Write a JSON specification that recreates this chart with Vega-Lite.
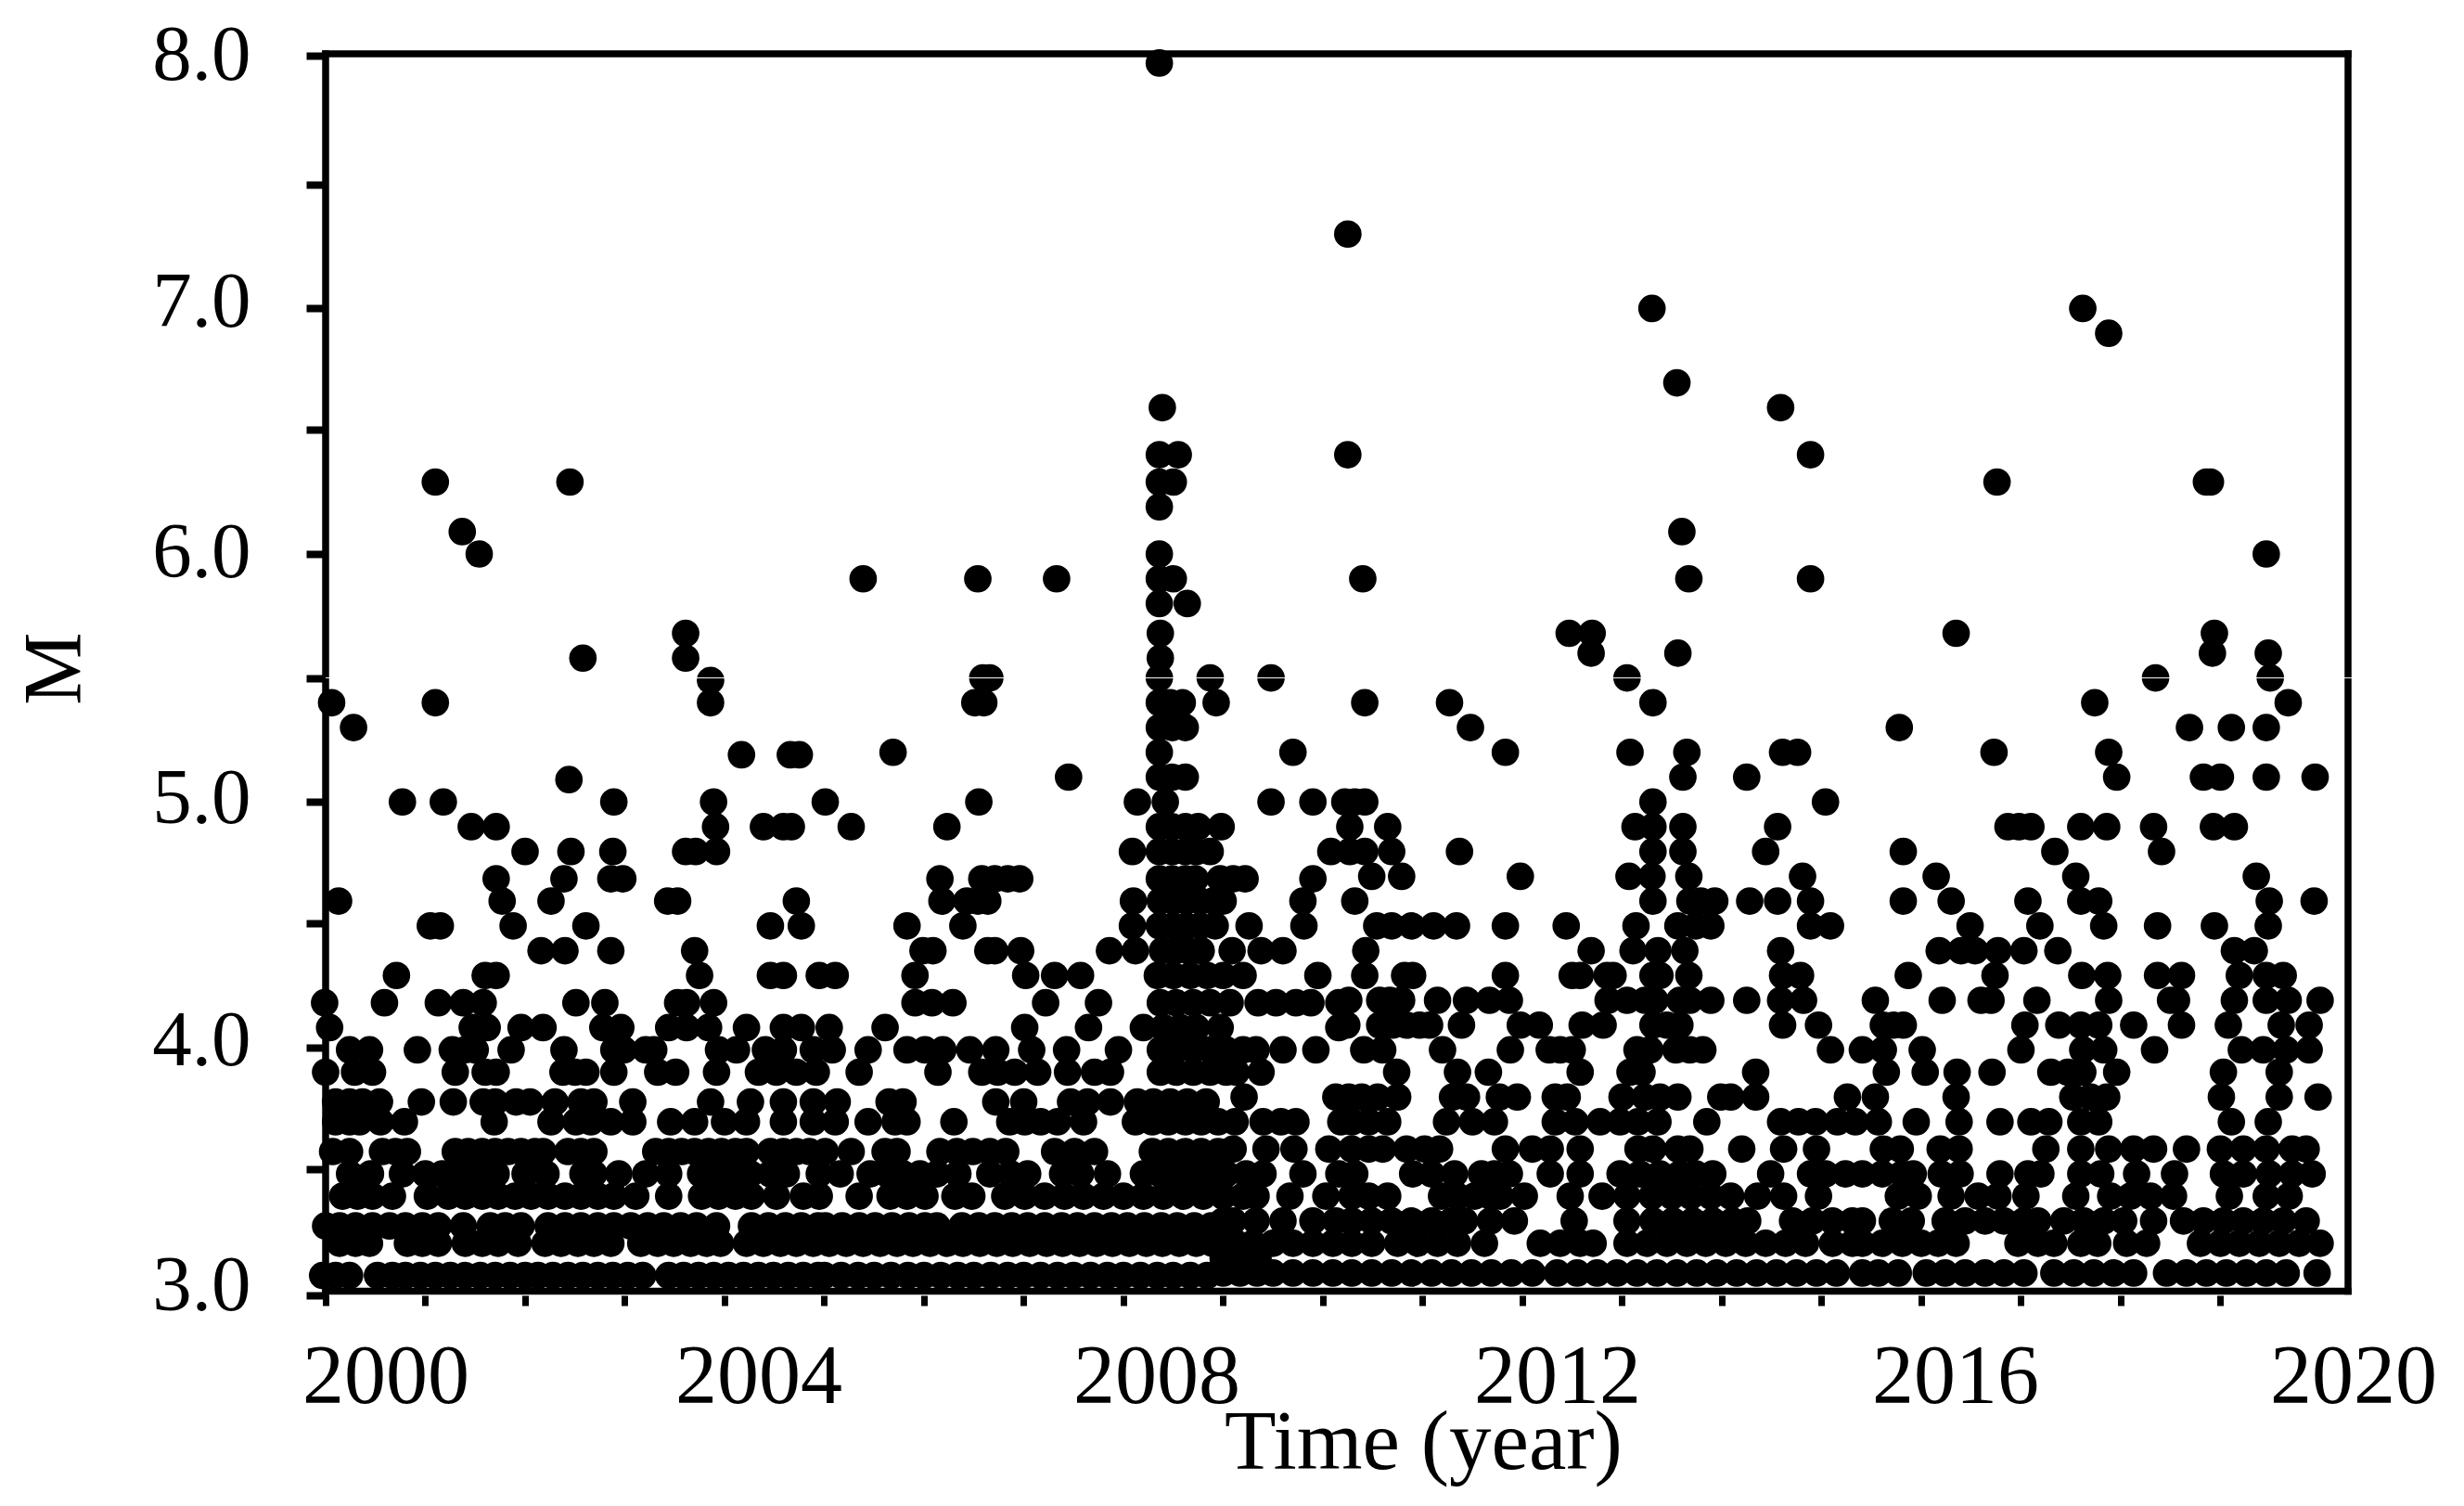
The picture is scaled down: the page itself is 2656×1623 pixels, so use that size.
{"$schema":"https://vega.github.io/schema/vega-lite/v6.json","description":"Earthquake magnitude against time, 2000 to 2020","width":2186.45,"height":1338,"autosize":{"type":"none"},"padding":{"left":351,"top":58,"right":118.55,"bottom":227},"background":"#ffffff","config":{"view":{"stroke":null},"font":"Liberation Serif"},"layer":[{"data":{"values":[
{"year":2008.36,"mag":7.97},{"year":2010.25,"mag":7.28},{"year":2013.3,"mag":6.98},{"year":2017.62,"mag":6.98},{"year":2017.88,"mag":6.88},{"year":2013.55,"mag":6.68},{"year":2008.39,"mag":6.58},{"year":2014.59,"mag":6.58},{"year":2008.36,"mag":6.39},{"year":2008.55,"mag":6.39},{"year":2010.25,"mag":6.39},{"year":2014.89,"mag":6.39},{"year":2008.36,"mag":6.28},{"year":2008.5,"mag":6.28},{"year":2001.1,"mag":6.28},{"year":2002.45,"mag":6.28},{"year":2016.76,"mag":6.28},{"year":2018.86,"mag":6.28},{"year":2018.9,"mag":6.28},{"year":2008.36,"mag":6.18},{"year":2001.37,"mag":6.08},{"year":2013.6,"mag":6.08},{"year":2001.54,"mag":5.99},{"year":2008.36,"mag":5.99},{"year":2019.46,"mag":5.99},{"year":2005.39,"mag":5.89},{"year":2006.54,"mag":5.89},{"year":2007.33,"mag":5.89},{"year":2008.36,"mag":5.89},{"year":2008.5,"mag":5.89},{"year":2010.4,"mag":5.89},{"year":2013.67,"mag":5.89},{"year":2014.89,"mag":5.89},{"year":2008.36,"mag":5.79},{"year":2008.64,"mag":5.79},
{"year":2003.61,"mag":5.67},{"year":2008.37,"mag":5.67},{"year":2012.47,"mag":5.67},{"year":2012.7,"mag":5.67},{"year":2016.35,"mag":5.67},{"year":2018.94,"mag":5.67},
{"year":2002.58,"mag":5.57},{"year":2003.61,"mag":5.57},{"year":2008.37,"mag":5.57},{"year":2012.69,"mag":5.59},{"year":2013.56,"mag":5.59},{"year":2018.92,"mag":5.59},{"year":2019.48,"mag":5.59},
{"year":2003.86,"mag":5.48},{"year":2006.59,"mag":5.49},{"year":2006.66,"mag":5.49},{"year":2008.36,"mag":5.49},{"year":2008.87,"mag":5.49},{"year":2009.48,"mag":5.49},{"year":2013.05,"mag":5.49},{"year":2018.35,"mag":5.49},{"year":2019.5,"mag":5.49},
{"year":2000.06,"mag":5.39},{"year":2001.1,"mag":5.39},{"year":2003.86,"mag":5.39},{"year":2006.51,"mag":5.39},{"year":2006.6,"mag":5.39},{"year":2008.36,"mag":5.39},{"year":2008.47,"mag":5.39},{"year":2008.59,"mag":5.39},{"year":2008.93,"mag":5.39},{"year":2010.42,"mag":5.39},{"year":2011.27,"mag":5.39},{"year":2013.31,"mag":5.39},{"year":2017.74,"mag":5.39},{"year":2019.68,"mag":5.39},
{"year":2000.28,"mag":5.29},{"year":2008.36,"mag":5.29},{"year":2008.49,"mag":5.29},{"year":2008.62,"mag":5.29},{"year":2011.48,"mag":5.29},{"year":2015.78,"mag":5.29},{"year":2018.69,"mag":5.29},{"year":2019.11,"mag":5.29},{"year":2019.46,"mag":5.29},
{"year":2004.17,"mag":5.18},{"year":2004.66,"mag":5.18},{"year":2004.75,"mag":5.18},{"year":2005.69,"mag":5.19},{"year":2008.36,"mag":5.19},{"year":2009.7,"mag":5.19},{"year":2011.83,"mag":5.19},{"year":2013.08,"mag":5.19},{"year":2013.65,"mag":5.19},{"year":2014.61,"mag":5.19},{"year":2014.76,"mag":5.19},{"year":2016.73,"mag":5.19},{"year":2017.88,"mag":5.19},
{"year":2002.44,"mag":5.08},{"year":2007.45,"mag":5.09},{"year":2008.36,"mag":5.09},{"year":2008.49,"mag":5.09},{"year":2008.62,"mag":5.09},{"year":2013.61,"mag":5.09},{"year":2014.25,"mag":5.09},{"year":2017.96,"mag":5.09},{"year":2018.83,"mag":5.09},{"year":2019.0,"mag":5.09},{"year":2019.46,"mag":5.09},{"year":2019.95,"mag":5.09},
{"year":2000.77,"mag":4.99},{"year":2001.18,"mag":4.99},{"year":2002.89,"mag":4.99},{"year":2003.89,"mag":4.99},{"year":2005.01,"mag":4.99},{"year":2006.55,"mag":4.99},{"year":2008.14,"mag":4.99},{"year":2008.42,"mag":4.99},{"year":2009.48,"mag":4.99},{"year":2009.9,"mag":4.99},{"year":2010.22,"mag":4.99},{"year":2010.32,"mag":4.99},{"year":2010.42,"mag":4.99},{"year":2013.31,"mag":4.99},{"year":2015.04,"mag":4.99},
{"year":2001.46,"mag":4.89},{"year":2001.71,"mag":4.89},{"year":2003.91,"mag":4.89},{"year":2004.39,"mag":4.89},{"year":2004.59,"mag":4.89},{"year":2004.67,"mag":4.89},{"year":2005.27,"mag":4.89},{"year":2006.23,"mag":4.89},{"year":2008.36,"mag":4.89},{"year":2008.49,"mag":4.89},{"year":2008.62,"mag":4.89},{"year":2008.75,"mag":4.89},{"year":2008.98,"mag":4.89},{"year":2010.27,"mag":4.89},{"year":2010.65,"mag":4.89},{"year":2013.13,"mag":4.89},{"year":2013.31,"mag":4.89},{"year":2013.61,"mag":4.89},{"year":2014.56,"mag":4.89},{"year":2016.87,"mag":4.89},{"year":2016.98,"mag":4.89},{"year":2017.1,"mag":4.89},{"year":2017.6,"mag":4.89},{"year":2017.86,"mag":4.89},{"year":2018.33,"mag":4.89},{"year":2018.93,"mag":4.89},{"year":2019.14,"mag":4.89},
{"year":2002.0,"mag":4.79},{"year":2002.46,"mag":4.79},{"year":2002.88,"mag":4.79},{"year":2003.61,"mag":4.79},{"year":2003.71,"mag":4.79},{"year":2003.92,"mag":4.79},{"year":2008.09,"mag":4.79},{"year":2008.36,"mag":4.79},{"year":2008.49,"mag":4.79},{"year":2008.62,"mag":4.79},{"year":2008.73,"mag":4.79},{"year":2008.87,"mag":4.79},{"year":2010.08,"mag":4.79},{"year":2010.27,"mag":4.79},{"year":2010.42,"mag":4.79},{"year":2010.69,"mag":4.79},{"year":2011.37,"mag":4.79},{"year":2013.31,"mag":4.79},{"year":2013.61,"mag":4.79},{"year":2014.44,"mag":4.79},{"year":2015.82,"mag":4.79},{"year":2017.34,"mag":4.79},{"year":2018.41,"mag":4.79},
{"year":2001.71,"mag":4.68},{"year":2002.39,"mag":4.68},{"year":2002.86,"mag":4.68},{"year":2002.98,"mag":4.68},{"year":2006.16,"mag":4.68},{"year":2006.58,"mag":4.68},{"year":2006.71,"mag":4.68},{"year":2006.84,"mag":4.68},{"year":2006.96,"mag":4.68},{"year":2008.36,"mag":4.68},{"year":2008.49,"mag":4.68},{"year":2008.62,"mag":4.68},{"year":2008.72,"mag":4.68},{"year":2008.97,"mag":4.68},{"year":2009.1,"mag":4.68},{"year":2009.22,"mag":4.68},{"year":2009.9,"mag":4.68},{"year":2010.49,"mag":4.69},{"year":2010.79,"mag":4.69},{"year":2011.98,"mag":4.69},{"year":2013.07,"mag":4.69},{"year":2013.3,"mag":4.69},{"year":2013.67,"mag":4.69},{"year":2014.81,"mag":4.69},{"year":2016.15,"mag":4.69},{"year":2017.55,"mag":4.69},{"year":2019.36,"mag":4.69},
{"year":2000.13,"mag":4.59},{"year":2001.77,"mag":4.59},{"year":2002.26,"mag":4.59},{"year":2003.43,"mag":4.59},{"year":2003.53,"mag":4.59},{"year":2004.72,"mag":4.59},{"year":2006.18,"mag":4.59},{"year":2006.43,"mag":4.59},{"year":2006.54,"mag":4.59},{"year":2006.64,"mag":4.59},{"year":2008.1,"mag":4.59},{"year":2008.37,"mag":4.59},{"year":2008.5,"mag":4.59},{"year":2008.63,"mag":4.59},{"year":2008.77,"mag":4.59},{"year":2008.9,"mag":4.59},{"year":2009.0,"mag":4.59},{"year":2009.8,"mag":4.59},{"year":2010.32,"mag":4.59},{"year":2013.31,"mag":4.59},{"year":2013.68,"mag":4.59},{"year":2013.79,"mag":4.59},{"year":2013.93,"mag":4.59},{"year":2014.28,"mag":4.59},{"year":2014.56,"mag":4.59},{"year":2014.89,"mag":4.59},{"year":2015.82,"mag":4.59},{"year":2016.3,"mag":4.59},{"year":2017.07,"mag":4.59},{"year":2017.6,"mag":4.59},{"year":2017.78,"mag":4.59},{"year":2019.49,"mag":4.59},{"year":2019.94,"mag":4.59},
{"year":2001.05,"mag":4.49},{"year":2001.15,"mag":4.49},{"year":2001.88,"mag":4.49},{"year":2002.61,"mag":4.49},{"year":2004.46,"mag":4.49},{"year":2004.77,"mag":4.49},{"year":2005.83,"mag":4.49},{"year":2006.39,"mag":4.49},{"year":2008.09,"mag":4.49},{"year":2008.36,"mag":4.49},{"year":2008.5,"mag":4.49},{"year":2008.63,"mag":4.49},{"year":2008.77,"mag":4.49},{"year":2008.92,"mag":4.49},{"year":2009.26,"mag":4.49},{"year":2009.81,"mag":4.49},{"year":2010.54,"mag":4.49},{"year":2010.69,"mag":4.49},{"year":2010.89,"mag":4.49},{"year":2011.11,"mag":4.49},{"year":2011.34,"mag":4.49},{"year":2011.83,"mag":4.49},{"year":2012.44,"mag":4.49},{"year":2013.14,"mag":4.49},{"year":2013.56,"mag":4.49},{"year":2013.74,"mag":4.49},{"year":2013.89,"mag":4.49},{"year":2014.89,"mag":4.49},{"year":2015.09,"mag":4.49},{"year":2016.49,"mag":4.49},{"year":2017.19,"mag":4.49},{"year":2017.83,"mag":4.49},{"year":2018.37,"mag":4.49},{"year":2018.94,"mag":4.49},{"year":2019.48,"mag":4.49},
{"year":2002.16,"mag":4.39},{"year":2002.4,"mag":4.39},{"year":2002.86,"mag":4.39},{"year":2003.7,"mag":4.39},{"year":2005.99,"mag":4.39},{"year":2006.09,"mag":4.39},{"year":2006.64,"mag":4.39},{"year":2006.71,"mag":4.39},{"year":2006.97,"mag":4.39},{"year":2007.86,"mag":4.39},{"year":2008.12,"mag":4.39},{"year":2008.39,"mag":4.39},{"year":2008.52,"mag":4.39},{"year":2008.65,"mag":4.39},{"year":2008.78,"mag":4.39},{"year":2009.09,"mag":4.39},{"year":2009.38,"mag":4.39},{"year":2009.6,"mag":4.39},{"year":2010.43,"mag":4.39},{"year":2012.69,"mag":4.39},{"year":2013.11,"mag":4.39},{"year":2013.36,"mag":4.39},{"year":2013.63,"mag":4.39},{"year":2014.59,"mag":4.39},{"year":2016.18,"mag":4.39},{"year":2016.4,"mag":4.39},{"year":2016.54,"mag":4.39},{"year":2016.77,"mag":4.39},{"year":2017.03,"mag":4.39},{"year":2017.37,"mag":4.39},{"year":2019.14,"mag":4.39},{"year":2019.34,"mag":4.39},
{"year":2000.71,"mag":4.29},{"year":2001.6,"mag":4.29},{"year":2001.71,"mag":4.29},{"year":2003.75,"mag":4.29},{"year":2004.46,"mag":4.29},{"year":2004.59,"mag":4.29},{"year":2004.95,"mag":4.29},{"year":2005.11,"mag":4.29},{"year":2005.91,"mag":4.29},{"year":2007.02,"mag":4.29},{"year":2007.31,"mag":4.29},{"year":2007.57,"mag":4.29},{"year":2008.34,"mag":4.29},{"year":2008.5,"mag":4.29},{"year":2008.67,"mag":4.29},{"year":2008.84,"mag":4.29},{"year":2009.0,"mag":4.29},{"year":2009.2,"mag":4.29},{"year":2009.95,"mag":4.29},{"year":2010.42,"mag":4.29},{"year":2010.82,"mag":4.29},{"year":2010.9,"mag":4.29},{"year":2011.83,"mag":4.29},{"year":2012.5,"mag":4.29},{"year":2012.58,"mag":4.29},{"year":2012.85,"mag":4.29},{"year":2012.91,"mag":4.29},{"year":2013.31,"mag":4.29},{"year":2013.38,"mag":4.29},{"year":2013.67,"mag":4.29},{"year":2014.61,"mag":4.29},{"year":2014.79,"mag":4.29},{"year":2015.87,"mag":4.29},{"year":2016.74,"mag":4.29},{"year":2017.61,"mag":4.29},{"year":2017.87,"mag":4.29},{"year":2018.37,"mag":4.29},{"year":2018.61,"mag":4.29},{"year":2019.19,"mag":4.29},{"year":2019.46,"mag":4.29},{"year":2019.63,"mag":4.29},
{"year":1999.99,"mag":4.18},{"year":2000.59,"mag":4.18},{"year":2001.13,"mag":4.18},{"year":2001.38,"mag":4.18},{"year":2001.58,"mag":4.18},{"year":2002.51,"mag":4.18},{"year":2002.8,"mag":4.18},{"year":2003.53,"mag":4.18},{"year":2003.62,"mag":4.18},{"year":2003.89,"mag":4.18},{"year":2005.91,"mag":4.18},{"year":2006.08,"mag":4.18},{"year":2006.29,"mag":4.18},{"year":2007.22,"mag":4.18},{"year":2007.75,"mag":4.18},{"year":2008.37,"mag":4.18},{"year":2008.53,"mag":4.18},{"year":2008.7,"mag":4.18},{"year":2008.87,"mag":4.18},{"year":2009.07,"mag":4.18},{"year":2009.35,"mag":4.18},{"year":2009.53,"mag":4.18},{"year":2009.73,"mag":4.18},{"year":2009.88,"mag":4.18},{"year":2010.16,"mag":4.18},{"year":2010.26,"mag":4.19},{"year":2010.57,"mag":4.19},{"year":2010.67,"mag":4.19},{"year":2010.79,"mag":4.19},{"year":2011.15,"mag":4.19},{"year":2011.44,"mag":4.19},{"year":2011.67,"mag":4.19},{"year":2011.87,"mag":4.19},{"year":2012.86,"mag":4.19},{"year":2013.05,"mag":4.19},{"year":2013.23,"mag":4.19},{"year":2013.33,"mag":4.19},{"year":2013.58,"mag":4.19},{"year":2013.68,"mag":4.19},{"year":2013.89,"mag":4.19},{"year":2014.25,"mag":4.19},{"year":2014.59,"mag":4.19},{"year":2014.82,"mag":4.19},{"year":2015.54,"mag":4.19},{"year":2016.21,"mag":4.19},{"year":2016.6,"mag":4.19},{"year":2016.7,"mag":4.19},{"year":2017.16,"mag":4.19},{"year":2017.88,"mag":4.19},{"year":2018.5,"mag":4.19},{"year":2018.56,"mag":4.19},{"year":2019.14,"mag":4.19},{"year":2019.46,"mag":4.19},{"year":2019.68,"mag":4.19},{"year":2020.0,"mag":4.19},
{"year":2000.04,"mag":4.08},{"year":2001.47,"mag":4.08},{"year":2001.62,"mag":4.08},{"year":2001.96,"mag":4.08},{"year":2002.18,"mag":4.08},{"year":2002.78,"mag":4.08},{"year":2002.96,"mag":4.08},{"year":2003.44,"mag":4.08},{"year":2003.62,"mag":4.08},{"year":2003.84,"mag":4.08},{"year":2004.22,"mag":4.08},{"year":2004.59,"mag":4.08},{"year":2004.77,"mag":4.08},{"year":2005.05,"mag":4.08},{"year":2005.61,"mag":4.08},{"year":2007.01,"mag":4.08},{"year":2007.65,"mag":4.08},{"year":2008.2,"mag":4.08},{"year":2008.4,"mag":4.08},{"year":2008.57,"mag":4.08},{"year":2008.73,"mag":4.08},{"year":2008.97,"mag":4.08},{"year":2010.16,"mag":4.08},{"year":2010.24,"mag":4.09},{"year":2010.57,"mag":4.09},{"year":2010.7,"mag":4.09},{"year":2010.84,"mag":4.09},{"year":2010.97,"mag":4.09},{"year":2011.07,"mag":4.09},{"year":2011.39,"mag":4.09},{"year":2011.98,"mag":4.09},{"year":2012.17,"mag":4.09},{"year":2012.6,"mag":4.09},{"year":2012.81,"mag":4.09},{"year":2013.31,"mag":4.09},{"year":2013.45,"mag":4.09},{"year":2013.58,"mag":4.09},{"year":2014.61,"mag":4.09},{"year":2014.97,"mag":4.09},{"year":2015.62,"mag":4.09},{"year":2015.72,"mag":4.09},{"year":2015.82,"mag":4.09},{"year":2017.04,"mag":4.09},{"year":2017.38,"mag":4.09},{"year":2017.6,"mag":4.09},{"year":2017.78,"mag":4.09},{"year":2018.13,"mag":4.09},{"year":2018.61,"mag":4.09},{"year":2019.08,"mag":4.09},{"year":2019.61,"mag":4.09},{"year":2019.89,"mag":4.09},
{"year":2000.24,"mag":3.99},{"year":2000.44,"mag":3.99},{"year":2000.92,"mag":3.99},{"year":2001.27,"mag":3.99},{"year":2001.4,"mag":3.99},{"year":2001.5,"mag":3.99},{"year":2001.86,"mag":3.99},{"year":2002.39,"mag":3.99},{"year":2002.89,"mag":3.99},{"year":2002.99,"mag":3.99},{"year":2003.21,"mag":3.99},{"year":2003.29,"mag":3.99},{"year":2003.94,"mag":3.99},{"year":2004.12,"mag":3.99},{"year":2004.41,"mag":3.99},{"year":2004.59,"mag":3.99},{"year":2004.89,"mag":3.99},{"year":2005.08,"mag":3.99},{"year":2005.44,"mag":3.99},{"year":2005.83,"mag":3.99},{"year":2006.01,"mag":3.99},{"year":2006.19,"mag":3.99},{"year":2006.46,"mag":3.99},{"year":2006.72,"mag":3.99},{"year":2007.08,"mag":3.99},{"year":2007.43,"mag":3.99},{"year":2007.95,"mag":3.99},{"year":2008.37,"mag":3.99},{"year":2008.53,"mag":3.99},{"year":2008.7,"mag":3.99},{"year":2008.87,"mag":3.99},{"year":2009.03,"mag":3.99},{"year":2009.2,"mag":3.99},{"year":2009.33,"mag":3.99},{"year":2009.6,"mag":3.99},{"year":2009.93,"mag":3.99},{"year":2010.41,"mag":3.99},{"year":2010.6,"mag":3.99},{"year":2011.2,"mag":3.99},{"year":2011.88,"mag":3.99},{"year":2012.27,"mag":3.99},{"year":2012.38,"mag":3.99},{"year":2012.5,"mag":3.99},{"year":2013.15,"mag":3.99},{"year":2013.28,"mag":3.99},{"year":2013.54,"mag":3.99},{"year":2013.68,"mag":3.99},{"year":2013.81,"mag":3.99},{"year":2015.09,"mag":3.99},{"year":2015.41,"mag":3.99},{"year":2015.62,"mag":3.99},{"year":2016.01,"mag":3.99},{"year":2017.0,"mag":3.99},{"year":2017.62,"mag":3.99},{"year":2017.83,"mag":3.99},{"year":2018.34,"mag":3.99},{"year":2019.21,"mag":3.99},{"year":2019.43,"mag":3.99},{"year":2019.66,"mag":3.99},{"year":2019.89,"mag":3.99},
{"year":2000.0,"mag":3.9},{"year":2000.29,"mag":3.9},{"year":2000.47,"mag":3.9},{"year":2001.3,"mag":3.9},{"year":2001.6,"mag":3.9},{"year":2001.71,"mag":3.9},{"year":2002.38,"mag":3.9},{"year":2002.5,"mag":3.9},{"year":2002.61,"mag":3.9},{"year":2002.89,"mag":3.9},{"year":2003.33,"mag":3.9},{"year":2003.51,"mag":3.9},{"year":2003.92,"mag":3.9},{"year":2004.34,"mag":3.9},{"year":2004.52,"mag":3.9},{"year":2004.72,"mag":3.9},{"year":2004.92,"mag":3.9},{"year":2005.35,"mag":3.9},{"year":2006.14,"mag":3.9},{"year":2006.58,"mag":3.9},{"year":2006.74,"mag":3.9},{"year":2006.91,"mag":3.9},{"year":2007.14,"mag":3.9},{"year":2007.44,"mag":3.9},{"year":2007.71,"mag":3.9},{"year":2007.87,"mag":3.9},{"year":2008.37,"mag":3.9},{"year":2008.53,"mag":3.9},{"year":2008.7,"mag":3.9},{"year":2008.87,"mag":3.9},{"year":2009.03,"mag":3.9},{"year":2009.13,"mag":3.9},{"year":2009.38,"mag":3.9},{"year":2010.74,"mag":3.9},{"year":2011.35,"mag":3.9},{"year":2011.66,"mag":3.9},{"year":2012.58,"mag":3.9},{"year":2013.08,"mag":3.9},{"year":2013.2,"mag":3.9},{"year":2014.34,"mag":3.9},{"year":2015.65,"mag":3.9},{"year":2016.04,"mag":3.9},{"year":2016.36,"mag":3.9},{"year":2016.71,"mag":3.9},{"year":2017.3,"mag":3.9},{"year":2017.47,"mag":3.9},{"year":2017.62,"mag":3.9},{"year":2017.96,"mag":3.9},{"year":2019.03,"mag":3.9},{"year":2019.59,"mag":3.9},
{"year":2000.1,"mag":3.78},{"year":2000.24,"mag":3.78},{"year":2000.37,"mag":3.78},{"year":2000.54,"mag":3.78},{"year":2000.96,"mag":3.78},{"year":2001.28,"mag":3.78},{"year":2001.58,"mag":3.78},{"year":2001.7,"mag":3.78},{"year":2001.91,"mag":3.78},{"year":2002.05,"mag":3.78},{"year":2002.3,"mag":3.78},{"year":2002.56,"mag":3.78},{"year":2002.69,"mag":3.78},{"year":2003.08,"mag":3.78},{"year":2003.86,"mag":3.78},{"year":2004.26,"mag":3.78},{"year":2004.59,"mag":3.78},{"year":2004.89,"mag":3.78},{"year":2005.13,"mag":3.78},{"year":2005.65,"mag":3.78},{"year":2005.79,"mag":3.78},{"year":2006.72,"mag":3.78},{"year":2007.0,"mag":3.78},{"year":2007.47,"mag":3.78},{"year":2007.64,"mag":3.78},{"year":2007.87,"mag":3.78},{"year":2008.14,"mag":3.78},{"year":2008.3,"mag":3.78},{"year":2008.47,"mag":3.78},{"year":2008.64,"mag":3.78},{"year":2008.83,"mag":3.78},{"year":2009.21,"mag":3.8},{"year":2010.13,"mag":3.8},{"year":2010.26,"mag":3.8},{"year":2010.39,"mag":3.8},{"year":2010.55,"mag":3.8},{"year":2010.75,"mag":3.8},{"year":2011.3,"mag":3.8},{"year":2011.44,"mag":3.8},{"year":2011.77,"mag":3.8},{"year":2011.95,"mag":3.8},{"year":2012.33,"mag":3.8},{"year":2012.45,"mag":3.8},{"year":2013.0,"mag":3.8},{"year":2013.23,"mag":3.8},{"year":2013.38,"mag":3.8},{"year":2013.56,"mag":3.8},{"year":2013.99,"mag":3.8},{"year":2014.09,"mag":3.8},{"year":2014.34,"mag":3.8},{"year":2015.26,"mag":3.8},{"year":2015.54,"mag":3.8},{"year":2016.35,"mag":3.8},{"year":2017.52,"mag":3.8},{"year":2017.7,"mag":3.8},{"year":2017.86,"mag":3.8},{"year":2019.01,"mag":3.8},{"year":2019.59,"mag":3.8},{"year":2019.98,"mag":3.8},
{"year":2000.1,"mag":3.7},{"year":2000.24,"mag":3.7},{"year":2000.34,"mag":3.7},{"year":2000.55,"mag":3.7},{"year":2000.79,"mag":3.7},{"year":2001.69,"mag":3.7},{"year":2002.26,"mag":3.7},{"year":2002.51,"mag":3.7},{"year":2002.66,"mag":3.7},{"year":2002.86,"mag":3.7},{"year":2003.08,"mag":3.7},{"year":2003.46,"mag":3.7},{"year":2003.7,"mag":3.7},{"year":2004.0,"mag":3.7},{"year":2004.22,"mag":3.7},{"year":2004.59,"mag":3.7},{"year":2004.89,"mag":3.7},{"year":2005.11,"mag":3.7},{"year":2005.44,"mag":3.7},{"year":2005.71,"mag":3.7},{"year":2005.83,"mag":3.7},{"year":2006.3,"mag":3.7},{"year":2006.86,"mag":3.7},{"year":2007.01,"mag":3.7},{"year":2007.17,"mag":3.7},{"year":2007.34,"mag":3.7},{"year":2007.6,"mag":3.7},{"year":2008.12,"mag":3.7},{"year":2008.29,"mag":3.7},{"year":2008.45,"mag":3.7},{"year":2008.62,"mag":3.7},{"year":2008.78,"mag":3.7},{"year":2008.95,"mag":3.7},{"year":2009.12,"mag":3.7},{"year":2009.4,"mag":3.7},{"year":2009.58,"mag":3.7},{"year":2009.73,"mag":3.7},{"year":2010.18,"mag":3.7},{"year":2010.29,"mag":3.7},{"year":2010.46,"mag":3.7},{"year":2010.65,"mag":3.7},{"year":2011.24,"mag":3.7},{"year":2011.5,"mag":3.7},{"year":2011.72,"mag":3.7},{"year":2012.33,"mag":3.7},{"year":2012.53,"mag":3.7},{"year":2012.78,"mag":3.7},{"year":2012.98,"mag":3.7},{"year":2013.16,"mag":3.7},{"year":2013.36,"mag":3.7},{"year":2013.85,"mag":3.7},{"year":2014.59,"mag":3.7},{"year":2014.77,"mag":3.7},{"year":2014.94,"mag":3.7},{"year":2015.16,"mag":3.7},{"year":2015.34,"mag":3.7},{"year":2015.57,"mag":3.7},{"year":2015.95,"mag":3.7},{"year":2016.38,"mag":3.7},{"year":2016.79,"mag":3.7},{"year":2017.1,"mag":3.7},{"year":2017.28,"mag":3.7},{"year":2017.6,"mag":3.7},{"year":2017.78,"mag":3.7},{"year":2019.11,"mag":3.7},{"year":2019.48,"mag":3.7},
{"year":2000.07,"mag":3.58},{"year":2000.24,"mag":3.58},{"year":2000.57,"mag":3.58},{"year":2000.7,"mag":3.58},{"year":2000.82,"mag":3.58},{"year":2001.3,"mag":3.58},{"year":2001.43,"mag":3.58},{"year":2001.57,"mag":3.58},{"year":2001.7,"mag":3.58},{"year":2001.83,"mag":3.58},{"year":2001.96,"mag":3.58},{"year":2002.1,"mag":3.58},{"year":2002.18,"mag":3.58},{"year":2002.43,"mag":3.58},{"year":2002.56,"mag":3.58},{"year":2002.69,"mag":3.58},{"year":2003.31,"mag":3.58},{"year":2003.44,"mag":3.58},{"year":2003.57,"mag":3.58},{"year":2003.7,"mag":3.58},{"year":2003.84,"mag":3.58},{"year":2003.97,"mag":3.58},{"year":2004.11,"mag":3.58},{"year":2004.22,"mag":3.58},{"year":2004.46,"mag":3.58},{"year":2004.59,"mag":3.58},{"year":2004.72,"mag":3.58},{"year":2004.85,"mag":3.58},{"year":2005.01,"mag":3.58},{"year":2005.27,"mag":3.58},{"year":2005.61,"mag":3.58},{"year":2005.73,"mag":3.58},{"year":2006.16,"mag":3.58},{"year":2006.33,"mag":3.58},{"year":2006.49,"mag":3.58},{"year":2006.66,"mag":3.58},{"year":2006.82,"mag":3.58},{"year":2007.31,"mag":3.58},{"year":2007.51,"mag":3.58},{"year":2007.71,"mag":3.58},{"year":2008.29,"mag":3.58},{"year":2008.45,"mag":3.58},{"year":2008.62,"mag":3.58},{"year":2008.78,"mag":3.58},{"year":2008.95,"mag":3.58},{"year":2009.1,"mag":3.59},{"year":2009.43,"mag":3.59},{"year":2009.71,"mag":3.59},{"year":2010.06,"mag":3.59},{"year":2010.29,"mag":3.59},{"year":2010.46,"mag":3.59},{"year":2010.6,"mag":3.59},{"year":2010.84,"mag":3.59},{"year":2011.02,"mag":3.59},{"year":2011.17,"mag":3.59},{"year":2011.83,"mag":3.59},{"year":2012.1,"mag":3.59},{"year":2012.28,"mag":3.59},{"year":2012.58,"mag":3.59},{"year":2013.16,"mag":3.59},{"year":2013.31,"mag":3.59},{"year":2013.56,"mag":3.59},{"year":2013.68,"mag":3.59},{"year":2014.2,"mag":3.59},{"year":2014.62,"mag":3.59},{"year":2014.95,"mag":3.59},{"year":2015.62,"mag":3.59},{"year":2015.79,"mag":3.59},{"year":2016.19,"mag":3.59},{"year":2016.38,"mag":3.59},{"year":2017.25,"mag":3.59},{"year":2017.6,"mag":3.59},{"year":2017.88,"mag":3.59},{"year":2018.13,"mag":3.59},{"year":2018.33,"mag":3.59},{"year":2018.66,"mag":3.59},{"year":2019.0,"mag":3.59},{"year":2019.23,"mag":3.59},{"year":2019.46,"mag":3.59},{"year":2019.72,"mag":3.59},{"year":2019.86,"mag":3.59},
{"year":2000.24,"mag":3.49},{"year":2000.45,"mag":3.49},{"year":2000.77,"mag":3.49},{"year":2001.0,"mag":3.49},{"year":2001.17,"mag":3.49},{"year":2001.3,"mag":3.49},{"year":2001.43,"mag":3.49},{"year":2001.57,"mag":3.49},{"year":2001.71,"mag":3.49},{"year":2002.0,"mag":3.49},{"year":2002.21,"mag":3.49},{"year":2002.58,"mag":3.49},{"year":2002.69,"mag":3.49},{"year":2002.94,"mag":3.49},{"year":2003.21,"mag":3.49},{"year":2003.44,"mag":3.49},{"year":2003.76,"mag":3.49},{"year":2003.92,"mag":3.49},{"year":2004.09,"mag":3.49},{"year":2004.26,"mag":3.49},{"year":2004.46,"mag":3.49},{"year":2004.62,"mag":3.49},{"year":2004.95,"mag":3.49},{"year":2005.16,"mag":3.49},{"year":2005.46,"mag":3.49},{"year":2005.63,"mag":3.49},{"year":2005.79,"mag":3.49},{"year":2005.96,"mag":3.49},{"year":2006.13,"mag":3.49},{"year":2006.34,"mag":3.49},{"year":2006.66,"mag":3.49},{"year":2006.87,"mag":3.49},{"year":2007.04,"mag":3.49},{"year":2007.39,"mag":3.49},{"year":2007.57,"mag":3.49},{"year":2007.84,"mag":3.49},{"year":2008.2,"mag":3.49},{"year":2008.37,"mag":3.49},{"year":2008.54,"mag":3.49},{"year":2008.7,"mag":3.49},{"year":2008.87,"mag":3.49},{"year":2009.03,"mag":3.49},{"year":2009.23,"mag":3.49},{"year":2009.4,"mag":3.49},{"year":2009.8,"mag":3.49},{"year":2010.16,"mag":3.49},{"year":2010.32,"mag":3.49},{"year":2010.9,"mag":3.49},{"year":2011.09,"mag":3.49},{"year":2011.32,"mag":3.49},{"year":2011.59,"mag":3.49},{"year":2011.72,"mag":3.49},{"year":2011.87,"mag":3.49},{"year":2012.28,"mag":3.49},{"year":2012.58,"mag":3.49},{"year":2012.98,"mag":3.49},{"year":2013.18,"mag":3.49},{"year":2013.38,"mag":3.49},{"year":2013.58,"mag":3.49},{"year":2013.74,"mag":3.49},{"year":2013.91,"mag":3.49},{"year":2014.49,"mag":3.49},{"year":2014.89,"mag":3.49},{"year":2015.04,"mag":3.49},{"year":2015.24,"mag":3.49},{"year":2015.41,"mag":3.49},{"year":2015.61,"mag":3.49},{"year":2015.81,"mag":3.49},{"year":2015.92,"mag":3.49},{"year":2016.2,"mag":3.49},{"year":2016.39,"mag":3.49},{"year":2016.79,"mag":3.49},{"year":2017.07,"mag":3.49},{"year":2017.2,"mag":3.49},{"year":2017.6,"mag":3.49},{"year":2017.8,"mag":3.49},{"year":2018.16,"mag":3.49},{"year":2018.54,"mag":3.49},{"year":2019.03,"mag":3.49},{"year":2019.23,"mag":3.49},{"year":2019.49,"mag":3.49},{"year":2019.72,"mag":3.49},{"year":2019.92,"mag":3.49},
{"year":2000.17,"mag":3.4},{"year":2000.32,"mag":3.4},{"year":2000.47,"mag":3.4},{"year":2000.67,"mag":3.4},{"year":2001.02,"mag":3.4},{"year":2001.23,"mag":3.4},{"year":2001.4,"mag":3.4},{"year":2001.57,"mag":3.4},{"year":2001.73,"mag":3.4},{"year":2001.9,"mag":3.4},{"year":2002.06,"mag":3.4},{"year":2002.23,"mag":3.4},{"year":2002.4,"mag":3.4},{"year":2002.56,"mag":3.4},{"year":2002.73,"mag":3.4},{"year":2002.89,"mag":3.4},{"year":2003.11,"mag":3.4},{"year":2003.44,"mag":3.4},{"year":2003.77,"mag":3.4},{"year":2003.94,"mag":3.4},{"year":2004.11,"mag":3.4},{"year":2004.27,"mag":3.4},{"year":2004.52,"mag":3.4},{"year":2004.79,"mag":3.4},{"year":2004.95,"mag":3.4},{"year":2005.35,"mag":3.4},{"year":2005.66,"mag":3.4},{"year":2005.83,"mag":3.4},{"year":2006.01,"mag":3.4},{"year":2006.31,"mag":3.4},{"year":2006.48,"mag":3.4},{"year":2006.81,"mag":3.4},{"year":2007.01,"mag":3.4},{"year":2007.21,"mag":3.4},{"year":2007.41,"mag":3.4},{"year":2007.6,"mag":3.4},{"year":2007.8,"mag":3.4},{"year":2008.0,"mag":3.4},{"year":2008.2,"mag":3.4},{"year":2008.4,"mag":3.4},{"year":2008.6,"mag":3.4},{"year":2008.8,"mag":3.4},{"year":2009.0,"mag":3.4},{"year":2009.2,"mag":3.4},{"year":2009.33,"mag":3.4},{"year":2009.67,"mag":3.4},{"year":2010.03,"mag":3.4},{"year":2010.29,"mag":3.4},{"year":2010.46,"mag":3.4},{"year":2010.65,"mag":3.4},{"year":2011.19,"mag":3.4},{"year":2011.35,"mag":3.4},{"year":2011.52,"mag":3.4},{"year":2011.68,"mag":3.4},{"year":2011.78,"mag":3.4},{"year":2012.02,"mag":3.4},{"year":2012.48,"mag":3.4},{"year":2012.8,"mag":3.4},{"year":2013.05,"mag":3.4},{"year":2013.3,"mag":3.4},{"year":2013.5,"mag":3.4},{"year":2013.69,"mag":3.4},{"year":2013.89,"mag":3.4},{"year":2014.09,"mag":3.4},{"year":2014.36,"mag":3.4},{"year":2014.62,"mag":3.4},{"year":2014.97,"mag":3.4},{"year":2015.77,"mag":3.4},{"year":2015.97,"mag":3.4},{"year":2016.3,"mag":3.4},{"year":2016.57,"mag":3.4},{"year":2016.77,"mag":3.4},{"year":2017.05,"mag":3.4},{"year":2017.55,"mag":3.4},{"year":2017.9,"mag":3.4},{"year":2018.1,"mag":3.4},{"year":2018.3,"mag":3.4},{"year":2018.53,"mag":3.4},{"year":2019.09,"mag":3.4},{"year":2019.46,"mag":3.4},{"year":2019.69,"mag":3.4},
{"year":2000.0,"mag":3.28},{"year":2000.14,"mag":3.28},{"year":2000.3,"mag":3.28},{"year":2000.47,"mag":3.28},{"year":2000.64,"mag":3.28},{"year":2000.8,"mag":3.28},{"year":2000.97,"mag":3.28},{"year":2001.13,"mag":3.28},{"year":2001.38,"mag":3.28},{"year":2001.65,"mag":3.28},{"year":2001.8,"mag":3.28},{"year":2001.96,"mag":3.28},{"year":2002.23,"mag":3.28},{"year":2002.4,"mag":3.28},{"year":2002.56,"mag":3.28},{"year":2002.73,"mag":3.28},{"year":2002.89,"mag":3.28},{"year":2003.06,"mag":3.28},{"year":2003.23,"mag":3.28},{"year":2003.39,"mag":3.28},{"year":2003.56,"mag":3.28},{"year":2003.72,"mag":3.28},{"year":2003.92,"mag":3.28},{"year":2004.27,"mag":3.28},{"year":2004.44,"mag":3.28},{"year":2004.61,"mag":3.28},{"year":2004.77,"mag":3.28},{"year":2004.94,"mag":3.28},{"year":2005.01,"mag":3.28},{"year":2005.18,"mag":3.28},{"year":2005.35,"mag":3.28},{"year":2005.51,"mag":3.28},{"year":2005.68,"mag":3.28},{"year":2005.85,"mag":3.28},{"year":2006.01,"mag":3.28},{"year":2006.13,"mag":3.28},{"year":2006.38,"mag":3.28},{"year":2006.55,"mag":3.28},{"year":2006.71,"mag":3.28},{"year":2006.88,"mag":3.28},{"year":2007.04,"mag":3.28},{"year":2007.21,"mag":3.28},{"year":2007.38,"mag":3.28},{"year":2007.54,"mag":3.28},{"year":2007.71,"mag":3.28},{"year":2007.88,"mag":3.28},{"year":2008.04,"mag":3.28},{"year":2008.21,"mag":3.28},{"year":2008.38,"mag":3.28},{"year":2008.54,"mag":3.28},{"year":2008.71,"mag":3.28},{"year":2008.88,"mag":3.28},{"year":2009.0,"mag":3.3},{"year":2009.1,"mag":3.3},{"year":2009.33,"mag":3.3},{"year":2009.6,"mag":3.3},{"year":2009.9,"mag":3.3},{"year":2010.13,"mag":3.3},{"year":2010.29,"mag":3.3},{"year":2010.49,"mag":3.3},{"year":2010.69,"mag":3.3},{"year":2010.89,"mag":3.3},{"year":2011.09,"mag":3.3},{"year":2011.29,"mag":3.3},{"year":2011.42,"mag":3.3},{"year":2011.68,"mag":3.3},{"year":2011.92,"mag":3.3},{"year":2012.52,"mag":3.3},{"year":2013.05,"mag":3.3},{"year":2013.31,"mag":3.3},{"year":2013.51,"mag":3.3},{"year":2013.71,"mag":3.3},{"year":2013.91,"mag":3.3},{"year":2014.11,"mag":3.3},{"year":2014.26,"mag":3.3},{"year":2014.71,"mag":3.3},{"year":2014.91,"mag":3.3},{"year":2015.11,"mag":3.3},{"year":2015.31,"mag":3.3},{"year":2015.41,"mag":3.3},{"year":2015.71,"mag":3.3},{"year":2015.9,"mag":3.3},{"year":2016.24,"mag":3.3},{"year":2016.44,"mag":3.3},{"year":2016.64,"mag":3.3},{"year":2016.83,"mag":3.3},{"year":2017.03,"mag":3.3},{"year":2017.17,"mag":3.3},{"year":2017.43,"mag":3.3},{"year":2017.63,"mag":3.3},{"year":2017.83,"mag":3.3},{"year":2018.03,"mag":3.3},{"year":2018.33,"mag":3.3},{"year":2018.63,"mag":3.3},{"year":2018.83,"mag":3.3},{"year":2019.03,"mag":3.3},{"year":2019.23,"mag":3.3},{"year":2019.43,"mag":3.3},{"year":2019.63,"mag":3.3},{"year":2019.86,"mag":3.3},
{"year":2000.14,"mag":3.21},{"year":2000.3,"mag":3.21},{"year":2000.44,"mag":3.21},{"year":2000.82,"mag":3.21},{"year":2000.97,"mag":3.21},{"year":2001.13,"mag":3.21},{"year":2001.4,"mag":3.21},{"year":2001.57,"mag":3.21},{"year":2001.73,"mag":3.21},{"year":2001.93,"mag":3.21},{"year":2002.2,"mag":3.21},{"year":2002.36,"mag":3.21},{"year":2002.53,"mag":3.21},{"year":2002.69,"mag":3.21},{"year":2002.86,"mag":3.21},{"year":2003.16,"mag":3.21},{"year":2003.33,"mag":3.21},{"year":2003.49,"mag":3.21},{"year":2003.66,"mag":3.21},{"year":2003.82,"mag":3.21},{"year":2003.96,"mag":3.21},{"year":2004.22,"mag":3.21},{"year":2004.39,"mag":3.21},{"year":2004.56,"mag":3.21},{"year":2004.72,"mag":3.21},{"year":2004.89,"mag":3.21},{"year":2005.05,"mag":3.21},{"year":2005.22,"mag":3.21},{"year":2005.39,"mag":3.21},{"year":2005.56,"mag":3.21},{"year":2005.73,"mag":3.21},{"year":2005.89,"mag":3.21},{"year":2006.06,"mag":3.21},{"year":2006.23,"mag":3.21},{"year":2006.39,"mag":3.21},{"year":2006.56,"mag":3.21},{"year":2006.73,"mag":3.21},{"year":2006.89,"mag":3.21},{"year":2007.06,"mag":3.21},{"year":2007.23,"mag":3.21},{"year":2007.39,"mag":3.21},{"year":2007.56,"mag":3.21},{"year":2007.73,"mag":3.21},{"year":2007.89,"mag":3.21},{"year":2008.06,"mag":3.21},{"year":2008.23,"mag":3.21},{"year":2008.39,"mag":3.21},{"year":2008.56,"mag":3.21},{"year":2008.73,"mag":3.21},{"year":2008.89,"mag":3.21},{"year":2009.0,"mag":3.21},{"year":2009.13,"mag":3.21},{"year":2009.3,"mag":3.21},{"year":2009.5,"mag":3.21},{"year":2009.7,"mag":3.21},{"year":2009.9,"mag":3.21},{"year":2010.1,"mag":3.21},{"year":2010.29,"mag":3.21},{"year":2010.49,"mag":3.21},{"year":2010.75,"mag":3.21},{"year":2010.95,"mag":3.21},{"year":2011.15,"mag":3.21},{"year":2011.35,"mag":3.21},{"year":2011.62,"mag":3.21},{"year":2012.18,"mag":3.21},{"year":2012.38,"mag":3.21},{"year":2012.58,"mag":3.21},{"year":2012.71,"mag":3.21},{"year":2013.05,"mag":3.21},{"year":2013.25,"mag":3.21},{"year":2013.45,"mag":3.21},{"year":2013.65,"mag":3.21},{"year":2013.84,"mag":3.21},{"year":2014.04,"mag":3.21},{"year":2014.24,"mag":3.21},{"year":2014.44,"mag":3.21},{"year":2014.64,"mag":3.21},{"year":2014.84,"mag":3.21},{"year":2015.11,"mag":3.21},{"year":2015.31,"mag":3.21},{"year":2015.41,"mag":3.21},{"year":2015.61,"mag":3.21},{"year":2015.81,"mag":3.21},{"year":2016.0,"mag":3.21},{"year":2016.17,"mag":3.21},{"year":2016.35,"mag":3.21},{"year":2016.97,"mag":3.21},{"year":2017.17,"mag":3.21},{"year":2017.33,"mag":3.21},{"year":2017.6,"mag":3.21},{"year":2017.77,"mag":3.21},{"year":2018.06,"mag":3.21},{"year":2018.26,"mag":3.21},{"year":2018.8,"mag":3.21},{"year":2019.0,"mag":3.21},{"year":2019.19,"mag":3.21},{"year":2019.39,"mag":3.21},{"year":2019.59,"mag":3.21},{"year":2019.79,"mag":3.21},{"year":2020.0,"mag":3.21},
{"year":2009.0,"mag":3.15},{"year":2009.1,"mag":3.15},{"year":2009.2,"mag":3.15},{"year":2009.35,"mag":3.15},
{"year":1999.97,"mag":3.08},{"year":2000.1,"mag":3.08},{"year":2000.24,"mag":3.08},{"year":2000.52,"mag":3.08},{"year":2000.67,"mag":3.08},{"year":2000.8,"mag":3.08},{"year":2000.95,"mag":3.08},{"year":2001.1,"mag":3.08},{"year":2001.25,"mag":3.08},{"year":2001.4,"mag":3.08},{"year":2001.55,"mag":3.08},{"year":2001.7,"mag":3.08},{"year":2001.85,"mag":3.08},{"year":2002.0,"mag":3.08},{"year":2002.13,"mag":3.08},{"year":2002.28,"mag":3.08},{"year":2002.43,"mag":3.08},{"year":2002.58,"mag":3.08},{"year":2002.73,"mag":3.08},{"year":2002.88,"mag":3.08},{"year":2003.03,"mag":3.08},{"year":2003.18,"mag":3.08},{"year":2003.44,"mag":3.08},{"year":2003.59,"mag":3.08},{"year":2003.74,"mag":3.08},{"year":2003.89,"mag":3.08},{"year":2004.04,"mag":3.08},{"year":2004.19,"mag":3.08},{"year":2004.34,"mag":3.08},{"year":2004.49,"mag":3.08},{"year":2004.64,"mag":3.08},{"year":2004.79,"mag":3.08},{"year":2004.94,"mag":3.08},{"year":2005.0,"mag":3.08},{"year":2005.17,"mag":3.08},{"year":2005.34,"mag":3.08},{"year":2005.5,"mag":3.08},{"year":2005.67,"mag":3.08},{"year":2005.84,"mag":3.08},{"year":2006.0,"mag":3.08},{"year":2006.17,"mag":3.08},{"year":2006.34,"mag":3.08},{"year":2006.5,"mag":3.08},{"year":2006.67,"mag":3.08},{"year":2006.84,"mag":3.08},{"year":2007.0,"mag":3.08},{"year":2007.17,"mag":3.08},{"year":2007.34,"mag":3.08},{"year":2007.5,"mag":3.08},{"year":2007.67,"mag":3.08},{"year":2007.84,"mag":3.08},{"year":2008.0,"mag":3.08},{"year":2008.17,"mag":3.08},{"year":2008.34,"mag":3.08},{"year":2008.5,"mag":3.08},{"year":2008.67,"mag":3.08},{"year":2008.84,"mag":3.08},
{"year":2009.0,"mag":3.09},{"year":2009.17,"mag":3.09},{"year":2009.34,"mag":3.09},{"year":2009.5,"mag":3.09},{"year":2009.7,"mag":3.09},{"year":2009.9,"mag":3.09},{"year":2010.1,"mag":3.09},{"year":2010.29,"mag":3.09},{"year":2010.49,"mag":3.09},{"year":2010.69,"mag":3.09},{"year":2010.89,"mag":3.09},{"year":2011.09,"mag":3.09},{"year":2011.29,"mag":3.09},{"year":2011.49,"mag":3.09},{"year":2011.69,"mag":3.09},{"year":2011.89,"mag":3.09},{"year":2012.1,"mag":3.09},{"year":2012.35,"mag":3.09},{"year":2012.55,"mag":3.09},{"year":2012.75,"mag":3.09},{"year":2012.95,"mag":3.09},{"year":2013.15,"mag":3.09},{"year":2013.35,"mag":3.09},{"year":2013.55,"mag":3.09},{"year":2013.75,"mag":3.09},{"year":2013.95,"mag":3.09},{"year":2014.15,"mag":3.09},{"year":2014.35,"mag":3.09},{"year":2014.55,"mag":3.09},{"year":2014.75,"mag":3.09},{"year":2014.95,"mag":3.09},{"year":2015.15,"mag":3.09},{"year":2015.41,"mag":3.09},{"year":2015.57,"mag":3.09},{"year":2015.77,"mag":3.09},{"year":2016.05,"mag":3.09},{"year":2016.24,"mag":3.09},{"year":2016.44,"mag":3.09},{"year":2016.64,"mag":3.09},{"year":2016.83,"mag":3.09},{"year":2017.03,"mag":3.09},{"year":2017.33,"mag":3.09},{"year":2017.53,"mag":3.09},{"year":2017.73,"mag":3.09},{"year":2017.93,"mag":3.09},{"year":2018.13,"mag":3.09},{"year":2018.46,"mag":3.09},{"year":2018.66,"mag":3.09},{"year":2018.86,"mag":3.09},{"year":2019.06,"mag":3.09},{"year":2019.26,"mag":3.09},{"year":2019.46,"mag":3.09},{"year":2019.66,"mag":3.09},{"year":2019.97,"mag":3.09}
]},"mark":{"type":"point","shape":"circle","filled":true,"color":"#000000","opacity":1,"size":880,"clip":false},"encoding":{"x":{"field":"year","type":"quantitative","scale":{"domain":[2000,2020.34],"nice":false,"zero":false},"axis":{"title":"Time (year)","titleFont":"Liberation Serif","titleFontSize":91,"titleFontWeight":"normal","titleColor":"#000000","titleX":1183,"titleY":186,"titleBaseline":"alphabetic","values":[2000,2000.6,2001,2002,2003,2004,2004.34,2005,2006,2007,2008,2008.33,2009,2010,2011,2012,2012.35,2013,2014,2015,2016,2016.34,2017,2018,2019,2020.33],"labelExpr":"datum.value % 1 == 0 ? '' : '' + floor(datum.value)","labelFont":"Liberation Serif","labelFontSize":90,"labelColor":"#000000","labelBaseline":"alphabetic","labelPadding":104,"labelLimit":0,"labelOverlap":false,"labelFlush":false,"labelBound":false,"domain":false,"grid":false,"ticks":true,"tickColor":"#000000","tickWidth":7,"tickSize":11,"tickOpacity":{"condition":{"test":"datum.value % 1 != 0","value":0},"value":1}}},"y":{"field":"mag","type":"quantitative","scale":{"domain":[3,8.007],"nice":false,"zero":false},"axis":{"title":"M","titleFont":"Liberation Serif","titleFontSize":88,"titleFontWeight":"normal","titleColor":"#000000","titleAngle":-90,"titleBaseline":"alphabetic","titleX":-266,"titleY":662,"values":[3,3.51,4,4.5,4.99,5.49,5.99,6.49,6.98,7.48,8],"labelExpr":"abs(datum.value - round(datum.value)) < 0.03 ? format(round(datum.value), '.1f') : ''","labelFont":"Liberation Serif","labelFontSize":85,"labelColor":"#000000","labelPadding":60,"labelLimit":0,"labelOffset":{"condition":[{"test":"datum.value == 3","value":-11},{"test":"datum.value == 4","value":-7},{"test":"datum.value == 4.99","value":-4},{"test":"datum.value == 5.99","value":-1},{"test":"datum.value == 6.98","value":-7}],"value":0},"labelOverlap":false,"labelFlush":false,"labelBound":false,"domain":false,"grid":false,"tickColor":"#000000","tickWidth":8,"tickSize":21}}}},
{"data":{"values":[{}]},"mark":{"type":"rule","color":"#000000","strokeWidth":7.5,"strokeCap":"square"},"encoding":{"x":{"datum":2000},"x2":{"datum":2020.28},"y":{"datum":3.017}}},
{"data":{"values":[{}]},"mark":{"type":"rule","color":"#000000","strokeWidth":7.5,"strokeCap":"square"},"encoding":{"x":{"datum":2000},"x2":{"datum":2020.28},"y":{"datum":8.007}}},
{"data":{"values":[{}]},"mark":{"type":"rule","color":"#000000","strokeWidth":7.5,"strokeCap":"square"},"encoding":{"x":{"datum":2000},"y":{"datum":3},"y2":{"datum":8.007}}},
{"data":{"values":[{}]},"mark":{"type":"rule","color":"#000000","strokeWidth":7.5,"strokeCap":"square"},"encoding":{"x":{"datum":2020.28},"y":{"datum":3.017},"y2":{"datum":8.007}}},
{"data":{"values":[{}]},"mark":{"type":"rule","color":"#ffffff","strokeWidth":1},"encoding":{"y":{"datum":5.49}}}]}
